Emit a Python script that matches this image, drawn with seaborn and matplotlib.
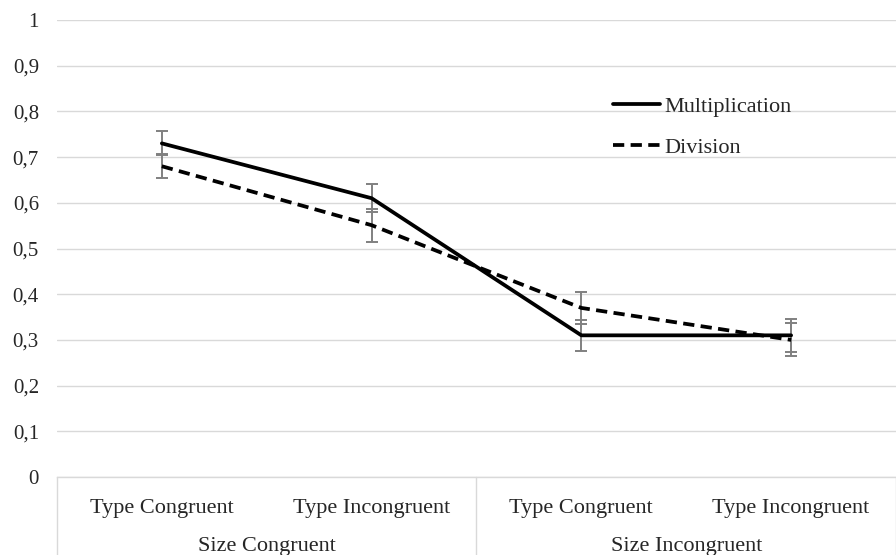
import numpy as np
import pandas as pd
import seaborn as sns
from matplotlib import pyplot as plt
from matplotlib.ticker import FuncFormatter

conditions = ["Type Congruent", "Type Incongruent", "Type Congruent", "Type Incongruent"]
groups = ["Size Congruent", "Size Incongruent"]
multiplication = [0.73, 0.61, 0.31, 0.31]
division = [0.68, 0.551, 0.37, 0.30]
mult_err = [0.026, 0.031, 0.034, 0.036]
div_err = [0.026, 0.036, 0.035, 0.036]

sns.set_theme(style="white")
plt.rcParams['font.family'] = ['Liberation Serif', 'DejaVu Serif']

df = pd.DataFrame({
    'pos': list(range(4)) * 2,
    'value': multiplication + division,
    'operation': ['Multiplication'] * 4 + ['Division'] * 4,
})

fig = plt.figure(figsize=(8.96, 5.55), dpi=100)
ax = fig.add_axes([0.0636, 0.1405, 0.9364, 0.8235])

# error bars first so lines sit on top
pos = np.arange(4)
for vals, errs in [(multiplication, mult_err), (division, div_err)]:
    ax.errorbar(pos, vals, yerr=errs, fmt='none', ecolor='#808080',
                elinewidth=1.4, capsize=4, capthick=1.4, zorder=2)

sns.lineplot(data=df, x='pos', y='value', hue='operation', style='operation',
             palette={'Multiplication': 'black', 'Division': 'black'},
             dashes={'Multiplication': '', 'Division': (3, 1.7)},
             linewidth=2.7, ax=ax, zorder=3, errorbar=None)

ax.set_xlim(-0.5, 3.5)
ax.set_ylim(0, 1)
ax.set_yticks(np.arange(0, 1.01, 0.1))
ax.yaxis.set_major_formatter(FuncFormatter(
    lambda v, _: '0' if abs(v) < 1e-9 else ('1' if abs(v - 1) < 1e-9 else f'{v:.1f}'.replace('.', ','))))
ax.tick_params(axis='y', length=0, pad=13, labelsize=15)
ax.set_xticks([])
ax.set_xlabel('')
ax.set_ylabel('')
ax.grid(axis='y', color='#d9d9d9', linewidth=1)
for s in ['left', 'right', 'top']:
    ax.spines[s].set_visible(False)
ax.spines['bottom'].set_color('#d9d9d9')
ax.spines['bottom'].set_linewidth(1)

# category labels and group separators below the axis
trans = ax.get_xaxis_transform()
for i, lab in enumerate(conditions):
    ax.text(i, -0.068, lab, transform=trans, ha='center', va='center', fontsize=16)
for g, lab in enumerate(groups):
    ax.text(0.5 + 2 * g, -0.151, lab, transform=trans, ha='center', va='center', fontsize=16)
for xv in [-0.5, 1.5, 3.5]:
    ax.plot([xv, xv], [0, -0.175], transform=trans, color='#d9d9d9',
            linewidth=1, clip_on=False)

ax.legend(handles=ax.get_legend_handles_labels()[0],
          labels=['Multiplication', 'Division'],
          loc='upper left', bbox_to_anchor=(0.684, 0.827), bbox_transform=fig.transFigure,
          frameon=False, fontsize=16, handlelength=2.1, handletextpad=0.2,
          labelspacing=0.95, borderpad=0, borderaxespad=0)

plt.savefig('out.png', dpi=100)
plt.close()
